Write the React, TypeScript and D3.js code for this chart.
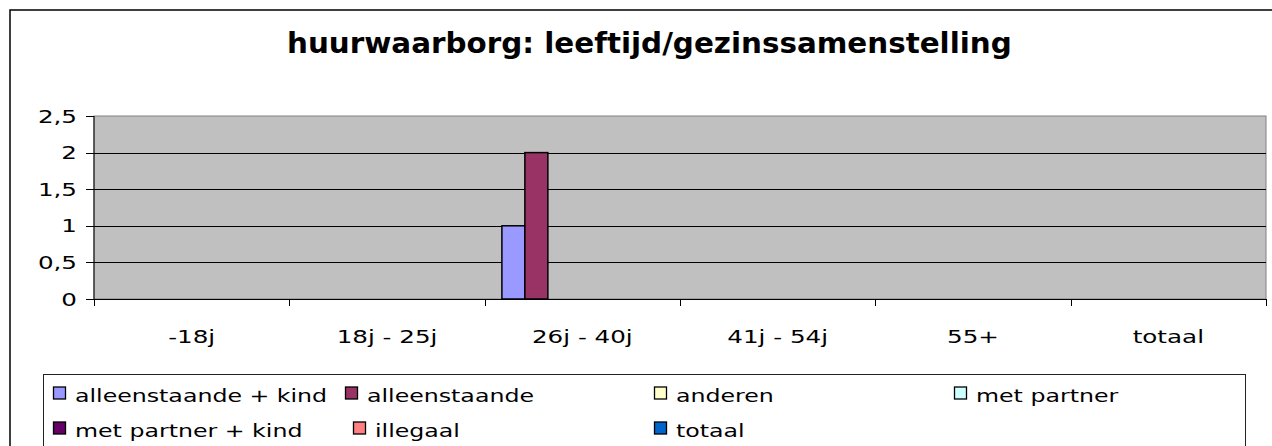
import React from "react";
import * as d3 from "d3";

const categories = ["-18j", "18j - 25j", "26j - 40j", "41j - 54j", "55+", "totaal"];
const seriesNames = [
  "alleenstaande + kind",
  "alleenstaande",
  "anderen",
  "met partner",
  "met partner + kind",
  "illegaal",
  "totaal",
];
const seriesColors = ["#9999FF", "#993366", "#FFFFCC", "#CCFFFF", "#660066", "#FF8080", "#0066CC"];
const alleenstaandeKind = [0, 0, 1, 0, 0, 0];
const alleenstaande = [0, 0, 2, 0, 0, 0];
const anderen = [0, 0, 0, 0, 0, 0];
const metPartner = [0, 0, 0, 0, 0, 0];
const metPartnerKind = [0, 0, 0, 0, 0, 0];
const illegaal = [0, 0, 0, 0, 0, 0];
const totaal = [0, 0, 0, 0, 0, 0];
const seriesValues = [alleenstaandeKind, alleenstaande, anderen, metPartner, metPartnerKind, illegaal, totaal];
const yTicks = [0, 0.5, 1, 1.5, 2, 2.5];
const title = "huurwaarborg: leeftijd/gezinssamenstelling";

function T(props: { x: number; y: number; k: number; anchor?: string; size: number; bold?: boolean; children: any }) {
  return (
    <text
      transform={`translate(${props.x},${props.y}) scale(${props.k},1)`}
      textAnchor={props.anchor || "start"}
      fontSize={props.size}
      fontWeight={props.bold ? "bold" : "normal"}
      fill="#000"
    >
      {props.children}
    </text>
  );
}

export default function App() {
  const W = 1272, H = 446;
  const left = 94, right = 1266, top = 116, bottom = 299;
  const font = "'DejaVu Sans', Verdana, sans-serif";
  const fs = 18.5, k = 1.33;

  const x = d3.scaleBand<string>().domain(categories).range([left, right]).paddingInner(0).paddingOuter(0);
  const y = d3.scaleLinear().domain([0, 2.5]).range([bottom, top]);
  const bw = x.bandwidth();
  const barW = bw / 8.5;
  const xs = d3.scaleBand<number>().domain(d3.range(seriesNames.length)).range([0.75 * barW, bw - 0.75 * barW]).padding(0);
  const fmt = (v: number) => String(v).replace(".", ",");

  const legendCols = [[53, 345, 654, 954], [53, 353, 654, 954]];
  const legendRows = [401.5, 436.5];

  return (
    <svg width={W} height={H} style={{ position: "absolute", left: 0, top: 0, background: "#fff" }} fontFamily={font}>
      <rect x={10} y={10} width={1400} height={600} fill="#fff" stroke="#000" strokeWidth={1.5} />
      <T x={287} y={52.5} k={1.05} size={28} bold>{title}</T>

      <rect x={left} y={top} width={right - left} height={bottom - top} fill="#C0C0C0" stroke="#808080" strokeWidth={1} />
      {yTicks.slice(1, -1).map((t) => (
        <line key={"g" + t} x1={left} x2={right} y1={Math.round(y(t)) + 0.5} y2={Math.round(y(t)) + 0.5} stroke="#000" strokeWidth={1} />
      ))}

      {categories.map((c, ci) =>
        seriesValues.map((vals, si) => {
          const v = vals[ci];
          if (v <= 0) return null;
          const bx = (x(c) as number) + (xs(si) as number);
          return (
            <rect key={c + si} x={bx} y={y(v)} width={xs.bandwidth()} height={y(0) - y(v)} fill={seriesColors[si]} stroke="#000" strokeWidth={1.5} />
          );
        })
      )}

      <line x1={left} x2={left} y1={top} y2={bottom} stroke="#000" strokeWidth={1} />
      <line x1={left} x2={right} y1={bottom + 0.5} y2={bottom + 0.5} stroke="#000" strokeWidth={1} />
      {yTicks.map((t) => (
        <g key={"y" + t}>
          <line x1={left - 8} x2={left} y1={Math.round(y(t)) + 0.5} y2={Math.round(y(t)) + 0.5} stroke="#000" />
          <T x={77} y={y(t) + 6.5} k={k} size={fs} anchor="end">{fmt(t)}</T>
        </g>
      ))}
      {d3.range(categories.length + 1).map((i) => {
        const px = Math.round(left + i * bw) + 0.5;
        return <line key={"xt" + i} x1={px} x2={px} y1={bottom} y2={bottom + 7} stroke="#000" />;
      })}
      {categories.map((c) => (
        <T key={"xl" + c} x={(x(c) as number) + bw / 2} y={343} k={k} size={fs} anchor="middle">{c}</T>
      ))}

      <rect x={43.5} y={374.5} width={1202} height={80} fill="#fff" stroke="#222" strokeWidth={1} />
      {seriesNames.map((n, i) => {
        const col = i % 4, row = Math.floor(i / 4);
        const sx = legendCols[row][col], by = legendRows[row];
        return (
          <g key={"l" + n}>
            <rect x={sx + 0.5} y={by - 14.5} width={12} height={12} fill={seriesColors[i]} stroke="#000" strokeWidth={1.3} />
            <T x={sx + 22} y={by} k={1.28} size={fs}>{n}</T>
          </g>
        );
      })}
    </svg>
  );
}
